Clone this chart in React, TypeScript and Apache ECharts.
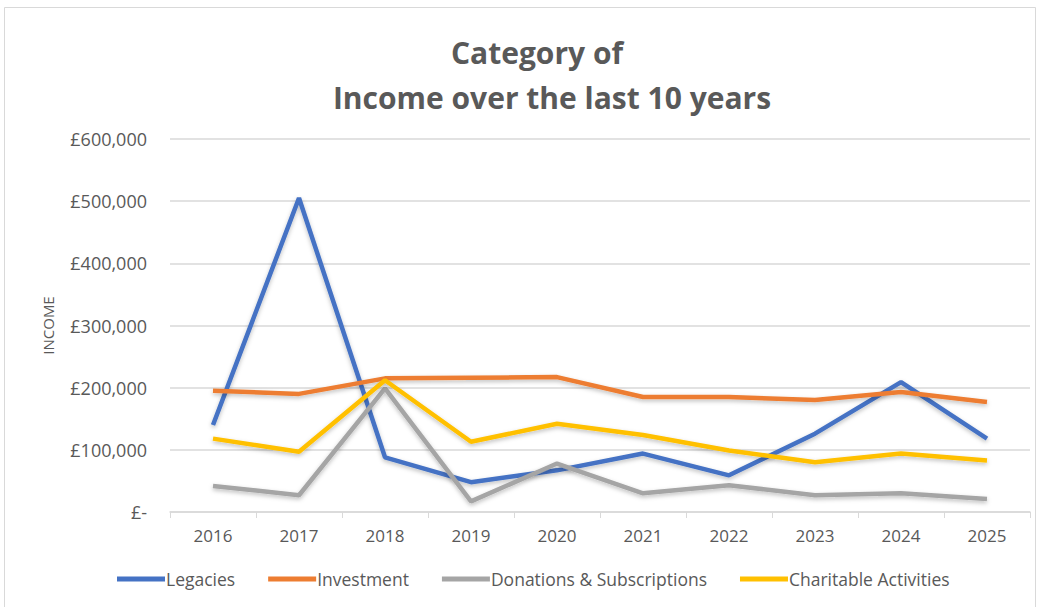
import React, { useEffect, useRef } from "react";
import * as echarts from "echarts";

const years = ["2016", "2017", "2018", "2019", "2020", "2021", "2022", "2023", "2024", "2025"];
const legacies = [140000, 505000, 88000, 48000, 67000, 94000, 59000, 126000, 209000, 118000];
const investment = [195000, 190000, 215000, 216000, 217000, 185000, 185000, 180000, 193000, 177000];
const donations = [42000, 27000, 199000, 17000, 78000, 30000, 43000, 27000, 30000, 21000];
const charitable = [118000, 97000, 212000, 113000, 142000, 124000, 99000, 80000, 94000, 83000];

const seriesNames = ["Legacies", "Investment", "Donations & Subscriptions", "Charitable Activities"];
const colors = ["#4472C4", "#ED7D31", "#A5A5A5", "#FFC000"];
const titleLines = ["Category of", "Income over the last 10 years"];

function fmt(v: number) {
  if (v === 0) return "£-";
  return "£" + v.toLocaleString("en-GB");
}

export default function App() {
  const ref = useRef<HTMLDivElement>(null);
  useEffect(() => {
    if (!ref.current) return;
    const chart = echarts.init(ref.current, undefined, { renderer: "svg" });
    const dataSets = [legacies, investment, donations, charitable];
    const font = "Open Sans, sans-serif";
    const titleFont = "bold 30px 'Open Sans', sans-serif";
    chart.setOption({
      animation: false,
      backgroundColor: "#ffffff",
      color: colors,
      graphic: [
        {
          type: "rect",
          shape: { x: 4.5, y: 7.5, width: 1031, height: 605 },
          style: { fill: "none", stroke: "#D9D9D9", lineWidth: 1 },
          silent: true,
        },
        {
          type: "text",
          x: 537,
          y: 52,
          style: {
            text: titleLines[0],
            font: titleFont,
            fill: "#595959",
            textAlign: "center",
            textVerticalAlign: "middle",
          },
        },
        {
          type: "text",
          x: 552,
          y: 97,
          style: {
            text: titleLines[1],
            font: titleFont,
            fill: "#595959",
            textAlign: "center",
            textVerticalAlign: "middle",
          },
        },
      ],
      legend: {
        bottom: 14,
        left: 112,
        itemWidth: 48,
        itemHeight: 5,
        itemGap: 33,
        icon: "rect",
        textStyle: { fontFamily: font, fontSize: 17.5, color: "#595959", padding: [0, 0, 0, -4] },
        data: seriesNames,
      },
      grid: { left: 170, right: 11, top: 139, bottom: 95, containLabel: false },
      xAxis: {
        type: "category",
        data: years,
        boundaryGap: true,
        axisLine: { lineStyle: { color: "#D9D9D9", width: 1.5 } },
        axisTick: { show: true, length: 6, lineStyle: { color: "#D9D9D9" } },
        axisLabel: { fontFamily: font, fontSize: 17, color: "#595959", margin: 15 },
      },
      yAxis: {
        type: "value",
        min: 0,
        max: 600000,
        interval: 100000,
        name: "INCOME",
        nameLocation: "middle",
        nameGap: 115,
        nameRotate: 90,
        nameTextStyle: { fontFamily: font, fontSize: 15, color: "#595959" },
        axisLine: { show: false },
        axisTick: { show: false },
        splitLine: { lineStyle: { color: "#D9D9D9", width: 1.5 } },
        axisLabel: {
          fontFamily: font,
          fontSize: 18,
          color: "#595959",
          margin: 23,
          formatter: (v: number) => fmt(v),
        },
      },
      series: dataSets.map((d, i) => ({
        name: seriesNames[i],
        type: "line",
        data: d,
        symbol: "none",
        lineStyle: {
          width: 4.5,
          color: colors[i],
          shadowColor: "rgba(0,0,0,0.25)",
          shadowBlur: 4,
          shadowOffsetY: 2,
        },
        itemStyle: { color: colors[i] },
      })),
    });
    return () => chart.dispose();
  }, []);
  return (
    <div
      ref={ref}
      style={{ position: "fixed", left: 0, top: 0, width: 1041, height: 607 }}
    />
  );
}
